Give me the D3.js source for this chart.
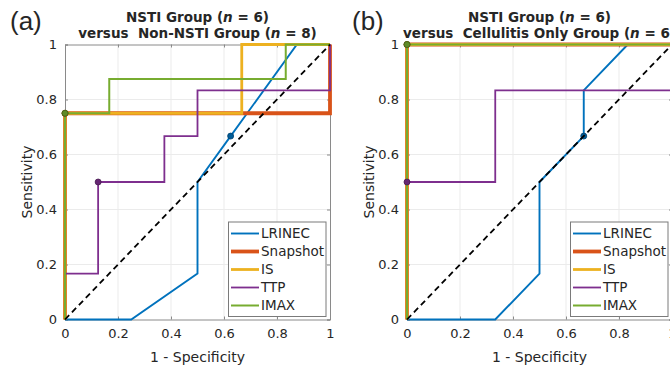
<!DOCTYPE html>
<html>
<head>
<meta charset="utf-8">
<script src="https://cdn.jsdelivr.net/npm/d3@7"></script>
<style>
body { margin: 0; background: #fff; }
svg { display: block; }
text { font-family: "DejaVu Sans", sans-serif; fill: #262626; }
</style>
</head>
<body>
<svg id="chart" width="670" height="366"></svg>
<script>
var seriesNames = ["LRINEC", "Snapshot", "IS", "TTP", "IMAX"];
var seriesColors = ["#0072BD", "#D95319", "#EDB120", "#7E2F8E", "#77AC30"];
var seriesWidths = [1.9, 3.8, 2.8, 1.8, 2];
var tickValues = [0, 0.2, 0.4, 0.6, 0.8, 1];

// panel (a): NSTI vs Non-NSTI, [1 - specificity, sensitivity]
var aLRINEC = [[0, 0], [0.25, 0], [0.5, 0.167], [0.5, 0.5], [0.625, 0.667], [0.875, 1], [1, 1]];
var aSnapshot = [[0, 0], [0, 0.75], [1, 0.75], [1, 1]];
var aIS = [[0, 0], [0, 0.75], [0.667, 0.75], [0.667, 1], [1, 1]];
var aTTP = [[0, 0], [0, 0.167], [0.125, 0.167], [0.125, 0.5], [0.375, 0.5], [0.375, 0.667], [0.5, 0.667], [0.5, 0.833], [1, 0.833], [1, 1]];
var aIMAX = [[0, 0], [0, 0.75], [0.167, 0.75], [0.167, 0.875], [0.833, 0.875], [0.833, 1], [1, 1]];
var aMarkers = [[0.625, 0.667], [0, 0.75], [0, 0.75], [0.125, 0.5], [0, 0.75]];

// panel (b): NSTI vs Cellulitis only
var bLRINEC = [[0, 0], [0.333, 0], [0.5, 0.167], [0.5, 0.5], [0.667, 0.667], [0.667, 0.833], [0.833, 1], [1, 1]];
var bSnapshot = [[0, 0], [0, 1], [1, 1]];
var bIS = [[0, 0], [0, 1], [1, 1]];
var bTTP = [[0, 0], [0, 0.5], [0.333, 0.5], [0.333, 0.833], [1, 0.833], [1, 1]];
var bIMAX = [[0, 0], [0, 1], [1, 1]];
var bMarkers = [[0.667, 0.667], [0, 1], [0, 1], [0, 0.5], [0, 1]];

var diagonal = [[0, 0], [1, 1]];

var svg = d3.select("#chart");
var plotW = 265, plotH = 275, plotTop = 44.5;

function drawPanel(left, letter, title2, n2, series, markers) {
	var g = svg.append("g").attr("transform", "translate(" + left + "," + plotTop + ")");
	var x = d3.scaleLinear().domain([0, 1]).range([0, plotW]);
	var y = d3.scaleLinear().domain([0, 1]).range([plotH, 0]);

	// grid
	g.append("g")
		.selectAll("line")
		.data(tickValues.slice(1, -1))
		.join("line")
		.attr("x1", d => x(d)).attr("x2", d => x(d))
		.attr("y1", 0).attr("y2", plotH)
		.attr("stroke", "#ebebeb");
	g.append("g")
		.selectAll("line")
		.data(tickValues.slice(1, -1))
		.join("line")
		.attr("y1", d => y(d)).attr("y2", d => y(d))
		.attr("x1", 0).attr("x2", plotW)
		.attr("stroke", "#ebebeb");

	// axes, ticks inward, box all round
	var xAxis = d3.axisBottom(x).tickValues(tickValues).tickSize(-3).tickPadding(9).tickFormat(d3.format("~g"));
	var yAxis = d3.axisLeft(y).tickValues(tickValues).tickSize(-3).tickPadding(8).tickFormat(d3.format("~g"));
	var xa = g.append("g").attr("transform", "translate(0," + plotH + ")").call(xAxis);
	var ya = g.append("g").call(yAxis);
	var xt = g.append("g").call(d3.axisTop(x).tickValues(tickValues).tickSize(-3).tickFormat(""));
	var yr = g.append("g").attr("transform", "translate(" + plotW + ",0)").call(d3.axisRight(y).tickValues(tickValues).tickSize(-3).tickFormat(""));
	[xa, ya, xt, yr].forEach(function (a) {
		a.select(".domain").attr("stroke", "#8a8a8a");
		a.selectAll(".tick line").attr("stroke", "#8a8a8a");
		a.selectAll("text").style("font-size", "13px").attr("fill", "#262626");
	});

	var line = d3.line().x(d => x(d[0])).y(d => y(d[1]));
	series.forEach(function (s, i) {
		g.append("path")
			.datum(s)
			.attr("fill", "none")
			.attr("stroke", seriesColors[i])
			.attr("stroke-width", seriesWidths[i])
			.attr("d", line);
	});

	markers.forEach(function (m, i) {
		var c = d3.color(seriesColors[i]);
		g.append("circle")
			.attr("cx", x(m[0])).attr("cy", y(m[1]))
			.attr("r", 3)
			.attr("fill", c.darker(0.6))
			.attr("stroke", c.darker(1.6))
			.attr("stroke-width", 0.8);
	});

	g.append("path")
		.datum(diagonal)
		.attr("fill", "none")
		.attr("stroke", "#000")
		.attr("stroke-width", 1.8)
		.attr("stroke-dasharray", "6,4")
		.attr("d", line);

	// legend
	var lg = g.append("g").attr("transform", "translate(" + (plotW - 101.5) + "," + (plotH - 97.5) + ")");
	lg.append("rect")
		.attr("width", 97.5).attr("height", 94.5)
		.attr("fill", "#fff").attr("stroke", "#7a7a7a").attr("stroke-width", 1);
	seriesNames.forEach(function (name, i) {
		var yy = 11.5 + i * 18;
		lg.append("line")
			.attr("x1", 2.5).attr("x2", 30.5)
			.attr("y1", yy).attr("y2", yy)
			.attr("stroke", seriesColors[i])
			.attr("stroke-width", seriesWidths[i]);
		lg.append("text")
			.attr("x", 32.5).attr("y", yy)
			.attr("dy", "0.35em")
			.style("font-size", "13.5px")
			.text(name);
	});

	// labels
	g.append("text")
		.attr("x", plotW / 2).attr("y", plotH + 42)
		.attr("text-anchor", "middle")
		.style("font-size", "14px")
		.text("1 - Specificity");
	g.append("text")
		.attr("transform", "translate(-33," + (plotH / 2) + ") rotate(-90)")
		.attr("text-anchor", "middle")
		.style("font-size", "14px")
		.text("Sensitivity");

	var t1 = g.append("text")
		.attr("x", plotW / 2).attr("y", -22.5)
		.attr("text-anchor", "middle")
		.style("font-size", "13.5px").style("font-weight", "bold");
	t1.append("tspan").text("NSTI Group (");
	t1.append("tspan").style("font-style", "italic").text("n");
	t1.append("tspan").text(" = 6)");
	var t2 = g.append("text")
		.attr("x", plotW / 2).attr("y", -7)
		.attr("text-anchor", "middle")
		.style("font-size", "13.5px").style("font-weight", "bold");
	t2.append("tspan").attr("xml:space", "preserve").text("versus  " + title2 + " (");
	t2.append("tspan").style("font-style", "italic").text("n");
	t2.append("tspan").text(" = " + n2 + ")");

	svg.append("text")
		.attr("x", left - 55).attr("y", 30)
		.style("font-family", "'Liberation Sans', Arial, sans-serif")
		.style("font-size", "26px")
		.text("(" + letter + ")");
}

drawPanel(65, "a", "Non-NSTI Group", 8, [aLRINEC, aSnapshot, aIS, aTTP, aIMAX], aMarkers);
drawPanel(407, "b", "Cellulitis Only Group", 6, [bLRINEC, bSnapshot, bIS, bTTP, bIMAX], bMarkers);
</script>
</body>
</html>
